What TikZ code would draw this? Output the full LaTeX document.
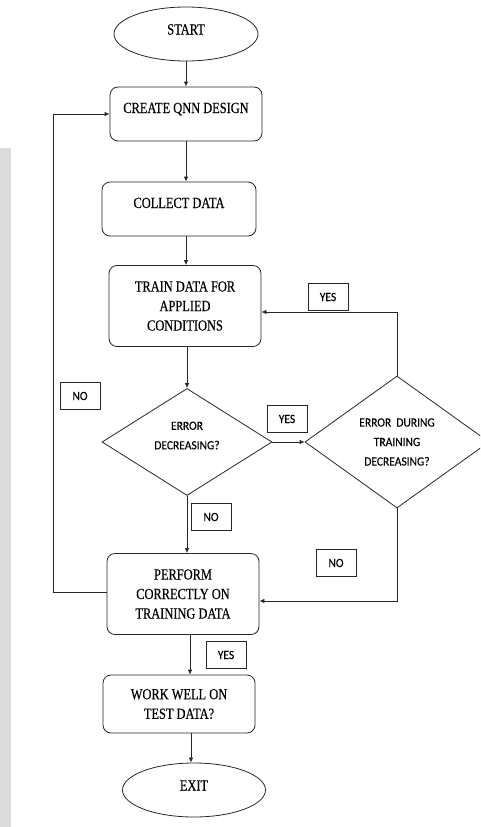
\documentclass[tikz,border=0pt]{standalone}
\usepackage{fontspec}
\setmainfont{Liberation Serif}[FakeStretch=0.8, FakeBold=0.4]
\newfontfamily\tagfont{Carlito}[FakeStretch=0.92, FakeBold=0.3]
\usetikzlibrary{shapes.geometric,arrows.meta}
\tikzset{
  line/.style={draw=black!85, line width=0.8pt},
  arr/.style={line, -{Latex[length=5pt,width=4.5pt]}},
  procbox/.style={line, rectangle, rounded corners=8pt, minimum width=152pt,
    inner sep=0pt, align=center, font=\fontsize{15.5}{19.5}\selectfont},
  onebox/.style={procbox, minimum height=54pt, text height=10pt, text depth=12pt},
  threebox/.style={procbox, minimum height=81pt},
  term/.style={line, ellipse, minimum width=144pt, minimum height=54pt, inner sep=0pt,
    font=\fontsize{15.5}{19.5}\selectfont, text height=10pt, text depth=9pt},
  decide/.style={line, diamond, inner sep=0pt, align=center,
    font=\tagfont\fontsize{12.5}{19.5}\selectfont},
  tag/.style={draw=black!85, line width=0.9pt, minimum width=40pt, minimum height=27pt,
    inner sep=0pt, font=\tagfont\fontsize{12.5}{14}\selectfont}
}
\begin{document}
\begin{tikzpicture}[x=1pt, y=-1pt]
  \useasboundingbox (0,0) rectangle (480,827);
  \clip (0,0) rectangle (480,827);
  \fill[gray!28] (0,148) rectangle (11,827);
  \node[term] (start) at (186,34) {START};
  \node[onebox] (create) at (186,114) {CREATE QNN DESIGN};
  \node[onebox, minimum width=154pt] (collect) at (179,209) {COLLECT DATA};
  \node[threebox] (train) at (185,306) {TRAIN DATA FOR\\APPLIED\\CONDITIONS};
  \node[decide, minimum width=170pt, minimum height=107pt, aspect=1.59, text depth=13pt] (errdec) at (187,442) {ERROR\\DECREASING?};
  \node[decide, minimum width=184pt, minimum height=132pt, aspect=1.39] (trainerr) at (397,442) {ERROR~~DURING\\TRAINING\\DECREASING?};
  \node[threebox] (perform) at (183,594) {PERFORM\\CORRECTLY ON\\TRAINING DATA};
  \node[procbox, minimum height=58pt] (work) at (179,704) {WORK WELL ON\\TEST DATA?};
  \node[term, minimum width=143pt] (exit) at (194,790) {EXIT};
  \foreach \n/\x/\y/\t in {yesup/328/297/YES, noleft/80/396/NO, yesmid/287/419/YES,
      nodown/211/517/NO, noright/336/563/NO, yesend/226/655/YES}
    \node[tag] (\n) at (\x,\y) {\t};
  \coordinate (loop) at (53,114);
  \draw[arr] (start) -- (create);
  \draw[arr] (create.south) -- (create.south |- collect.north);
  \draw[arr] (create.south |- collect.south) -- (create.south |- train.north);
  \draw[arr] (train.south -| errdec.north) -- (errdec.north);
  \draw[arr] (errdec.east) -- (trainerr.west);
  \draw[arr] (trainerr.north) |- ([yshift=-6pt]train.east);
  \draw[arr] (errdec.south) -- (errdec.south |- perform.north);
  \draw[arr] (trainerr.south) |- ([yshift=-7pt]perform.east);
  \draw[arr] ([yshift=2pt]perform.west) -| (loop) -- (create.west);
  \draw[arr] ([xshift=7pt]perform.south) -- ([xshift=7pt]perform.south |- work.north);
  \draw[arr] ([xshift=12pt]work.south) -- ([xshift=12pt]work.south |- exit.north);
\end{tikzpicture}
\end{document}
